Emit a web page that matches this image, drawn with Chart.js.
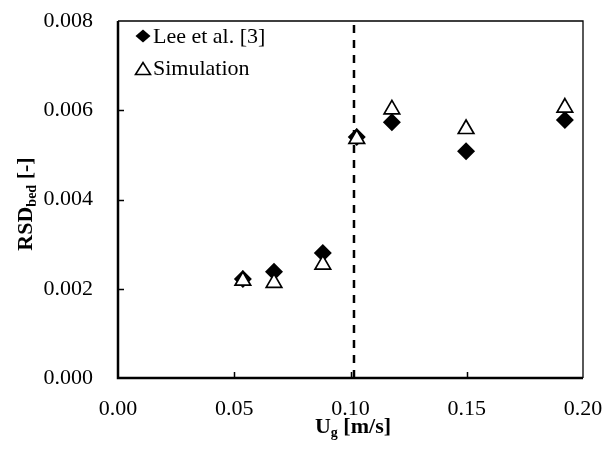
<!DOCTYPE html>
<html>
<head>
<meta charset="utf-8">
<script src="https://cdn.jsdelivr.net/npm/chart.js@4.4.0/dist/chart.umd.min.js"></script>
<style>
  html, body { margin: 0; padding: 0; background: #fff; }
</style>
</head>
<body>
<canvas id="chart" width="610" height="450"></canvas>
<script>
// superficial gas velocity [m/s]
const ug = [0.0537, 0.0671, 0.0881, 0.1027, 0.1178, 0.1497, 0.1922];
// RSD of bed, experiment and simulation
const leeData = [0.00222, 0.00238, 0.00280, 0.00540, 0.00573, 0.00508, 0.00578];
const simData = [0.00218, 0.00213, 0.00254, 0.00536, 0.00602, 0.00558, 0.00606];
const seriesLabels = ["Lee et al. [3]", "Simulation"];
const xTicks = [0, 0.05, 0.10, 0.15, 0.20];
const yTicks = [0, 0.002, 0.004, 0.006, 0.008];
const transitionUg = 0.1015;

const FONT = "'Liberation Serif', 'Times New Roman', serif";

const framePlugin = {
  id: "frame",
  afterDraw(chart) {
    const { ctx, chartArea: a, scales } = chart;
    ctx.save();
    ctx.strokeStyle = "#000";
    // thin top / right
    ctx.lineWidth = 1.3;
    ctx.beginPath();
    ctx.moveTo(a.left, a.top);
    ctx.lineTo(a.right, a.top);
    ctx.lineTo(a.right, a.bottom);
    ctx.stroke();
    // thick left / bottom
    ctx.lineWidth = 2.5;
    ctx.beginPath();
    ctx.moveTo(a.left, a.top);
    ctx.lineTo(a.left, a.bottom);
    ctx.lineTo(a.right, a.bottom);
    ctx.stroke();
    // inside tick marks
    ctx.lineWidth = 1.5;
    ctx.beginPath();
    yTicks.slice(1, -1).forEach(v => {
      const y = Math.round(scales.y.getPixelForValue(v)) + 0.5;
      ctx.moveTo(a.left, y);
      ctx.lineTo(a.left + 6, y);
    });
    xTicks.slice(1, -1).forEach(v => {
      const x = Math.round(scales.x.getPixelForValue(v)) + 0.5;
      ctx.moveTo(x, a.bottom);
      ctx.lineTo(x, a.bottom - 6);
    });
    ctx.stroke();

    // legend
    ctx.fillStyle = "#000";
    ctx.font = "22px " + FONT;
    ctx.textBaseline = "alphabetic";
    const lx = a.left + 25, ly1 = a.top + 15, ly2 = a.top + 47.5;
    ctx.beginPath();
    ctx.moveTo(lx - 7.5, ly1);
    ctx.lineTo(lx, ly1 - 6.5);
    ctx.lineTo(lx + 7.5, ly1);
    ctx.lineTo(lx, ly1 + 6.5);
    ctx.closePath();
    ctx.fill();
    ctx.fillText(seriesLabels[0], a.left + 35, a.top + 22);
    ctx.lineWidth = 1.6;
    ctx.beginPath();
    ctx.moveTo(lx - 7.5, ly2 + 6);
    ctx.lineTo(lx, ly2 - 6);
    ctx.lineTo(lx + 7.5, ly2 + 6);
    ctx.closePath();
    ctx.stroke();
    ctx.fillText(seriesLabels[1], a.left + 35, a.top + 54);

    // axis titles with subscripts
    const big = "bold 22px " + FONT, small = "bold 14px " + FONT;
    const parts = (p) => p.reduce((w, s) => { ctx.font = s[1]; return w + ctx.measureText(s[0]).width; }, 0);
    const drawParts = (p, x, y) => {
      p.forEach(s => {
        ctx.font = s[1];
        ctx.fillText(s[0], x, y + s[2]);
        x += ctx.measureText(s[0]).width;
      });
    };
    const xt = [["U", big, 0], ["g", small, 4], [" [m/s]", big, 0]];
    drawParts(xt, 353 - parts(xt) / 2, 433);
    const yt = [["RSD", big, 0], ["bed", small, 4], [" [-]", big, 0]];
    ctx.translate(32, 204);
    ctx.rotate(-Math.PI / 2);
    drawParts(yt, -parts(yt) / 2, 0);
    ctx.restore();
  }
};

new Chart(document.getElementById("chart"), {
  type: "scatter",
  data: {
    datasets: [
      {
        label: seriesLabels[1],
        data: ug.map((x, i) => ({ x, y: simData[i] })),
        pointStyle: "triangle",
        pointRadius: 9,
        pointHoverRadius: 9,
        backgroundColor: "#fff",
        borderColor: "#000",
        borderWidth: 1.7,
        order: 0
      },
      {
        label: seriesLabels[0],
        data: ug.map((x, i) => ({ x, y: leeData[i] })),
        pointStyle: "rectRot",
        pointRadius: 9,
        pointHoverRadius: 9,
        backgroundColor: "#000",
        borderColor: "#000",
        borderWidth: 0,
        order: 1
      },
      {
        label: "transition",
        type: "line",
        data: [{ x: transitionUg, y: yTicks[0] }, { x: transitionUg, y: yTicks[yTicks.length - 1] }],
        borderColor: "#000",
        borderWidth: 2.5,
        borderDash: [8, 7],
        pointRadius: 0,
        fill: false,
        order: 2
      }
    ]
  },
  options: {
    responsive: false,
    animation: false,
    devicePixelRatio: 1,
    layout: { padding: { top: 21, right: 27, left: 0, bottom: 0 } },
    plugins: { legend: { display: false }, tooltip: { enabled: false } },
    scales: {
      x: {
        type: "linear",
        min: xTicks[0],
        max: xTicks[xTicks.length - 1],
        afterBuildTicks: s => { s.ticks = xTicks.map(v => ({ value: v })); },
        afterFit: s => { s.height = 72; s.paddingLeft = 0; s.paddingRight = 0; },
        grid: { display: false, drawTicks: false },
        border: { display: false },
        ticks: {
          padding: 18,
          color: "#000",
          font: { family: FONT, size: 22 },
          callback: v => v.toFixed(2)
        }
      },
      y: {
        type: "linear",
        min: yTicks[0],
        max: yTicks[yTicks.length - 1],
        afterBuildTicks: s => { s.ticks = yTicks.map(v => ({ value: v })); },
        afterFit: s => { s.width = 118; s.paddingTop = 0; s.paddingBottom = 0; },
        grid: { display: false, drawTicks: false },
        border: { display: false },
        ticks: {
          padding: 25,
          color: "#000",
          font: { family: FONT, size: 22 },
          callback: v => v.toFixed(3)
        }
      }
    }
  },
  plugins: [framePlugin]
});
</script>
</body>
</html>
